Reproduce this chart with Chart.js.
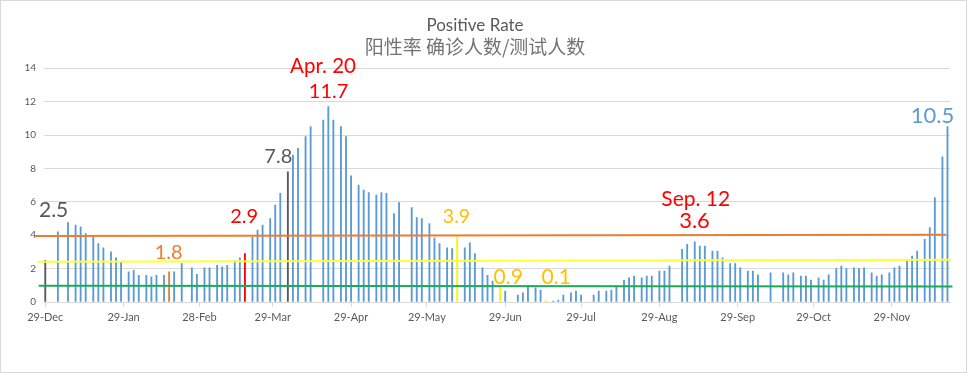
<!DOCTYPE html>
<html><head><meta charset="utf-8">
<script src="https://cdn.jsdelivr.net/npm/chart.js@4/dist/chart.umd.min.js"></script>
<style>html,body{margin:0;padding:0;background:#fff}canvas{display:block}</style>
</head><body>
<canvas id="c" width="967" height="373"></canvas>
<script>
// Days counted from 29-Dec
const days = [0,5,9,12,14,16,19,21,23,26,28,30,33,35,37,40,42,44,47,49,51,54,58,60,63,65,68,70,72,75,77,79,
  82,84,86,89,91,93,96,98,100,103,105,110,112,114,117,119,121,124,126,128,131,133,135,138,140,145,147,149,152,154,156,159,161,163,166,168,170,
  173,175,177,180,182,187,189,191,194,196,198,201,203,205,208,210,212,217,219,222,224,226,229,231,233,236,238,240,243,245,247,
  252,254,257,259,261,264,266,268,271,273,275,278,280,282,287,292,294,296,299,301,303,306,308,310,313,315,317,320,322,324,327,329,331,334,336,338,
  341,343,345,348,350,352,355,357];
const values = [2.5,4.2,4.75,4.6,4.5,4.1,3.95,3.5,3.25,3.0,2.65,2.4,1.8,1.9,1.6,1.6,1.5,1.6,1.6,1.8,1.8,2.3,2.05,1.65,2.05,2.05,2.2,2.1,2.2,2.5,2.65,2.9,
  3.9,4.3,4.6,5.0,5.8,6.5,7.8,8.8,9.2,9.9,10.5,10.9,11.7,10.9,10.5,9.9,7.55,7.0,6.7,6.55,6.4,6.55,6.5,5.3,5.95,5.65,5.05,5.0,4.7,3.85,3.5,3.25,3.2,3.9,3.25,3.55,2.9,
  2.05,1.6,1.25,0.9,0.65,0.42,0.55,1.0,0.85,0.72,0.1,0.06,0.12,0.42,0.55,0.65,0.42,0.42,0.65,0.65,0.72,0.95,1.3,1.45,1.55,1.45,1.55,1.55,1.85,1.85,2.15,
  3.15,3.45,3.6,3.35,3.35,3.05,3.05,2.65,2.3,2.3,2.05,1.85,1.85,1.62,1.75,1.75,1.62,1.75,1.55,1.55,1.32,1.45,1.32,1.62,2.0,2.15,2.0,2.05,2.0,2.05,1.75,1.55,1.62,1.75,2.05,2.15,
  2.45,2.75,3.05,3.75,4.45,6.25,8.7,10.5];
const tickDays = [0,31,61,90,121,151,182,212,243,274,304,335];
const tickLabels = ['29-Dec','29-Jan','28-Feb','29-Mar','29-Apr','29-May','29-Jun','29-Jul','29-Aug','29-Sep','29-Oct','29-Nov'];
const refLineDays = [-4, 356.5];
const orangeLine = [3.95, 4.03];
const yellowLineDays = [-3, 358.5];
const yellowLine = [2.41, 2.53];
const greenLineDays = [-2.6, 359];
const greenLine = [0.97, 0.93];
const labelText = ['2.5','1.8','2.9','7.8','Apr. 20','11.7','3.9','0.9','0.1','Sep. 12','3.6','10.5'];
const labelDay = [3.3,48.8,78.7,92.2,109.9,112.1,162.7,183.2,202.2,257.4,256.9,351.1];
const labelValue = [5.1,2.57,4.75,8.3,13.69,12.19,4.75,1.06,1.06,5.75,4.45,10.73];

// styles
const GREY='#595959', ORANGE='#ED7D31', RED='#FF0000', GOLD='#FFC000', BLUE='#5B9BD5', YEL='#FFF200';
const barColor = {0:GREY,49:ORANGE,79:RED,96:GREY,163:YEL,180:YEL,198:YEL};
const labelColor = [GREY,ORANGE,RED,GREY,RED,RED,GOLD,GOLD,GOLD,RED,RED,BLUE];
const labelSize = [21,20,20,20,20.5,20,19.5,21,21,21,22,22];

const pts = (xs, ys) => xs.map((x,i)=>({x, y: ys[i]}));

const labelPlugin = {
  id:'labels',
  afterDatasetsDraw(chart){
    const {ctx, scales:{x,y}} = chart;
    ctx.save();
    ctx.textAlign='center'; ctx.textBaseline='alphabetic';
    labelText.forEach((t,i)=>{
      ctx.font = labelSize[i]+'px Lato';
      ctx.fillStyle = labelColor[i];
      ctx.fillText(t, x.getPixelForValue(labelDay[i]), y.getPixelForValue(labelValue[i]));
    });
    ctx.restore();
  }
};
const borderPlugin = {
  id:'frame',
  afterDraw(chart){
    const ctx=chart.ctx; ctx.save(); ctx.strokeStyle='#D9D9D9'; ctx.lineWidth=1;
    ctx.strokeRect(0.5,0.5,chart.width-1,chart.height-1); ctx.restore();
  }
};

new Chart(document.getElementById('c'), {
  data:{
    datasets:[
      {type:'bar', data: pts(days, values), backgroundColor: days.map(d=>barColor[d]||BLUE), barThickness:1.2, order:2},
      {type:'line', data: pts(refLineDays, orangeLine), borderColor:ORANGE, borderWidth:2, pointRadius:0, clip:false, order:1},
      {type:'line', data: pts(yellowLineDays, yellowLine), borderColor:'#FFFF33', borderWidth:2, pointRadius:0, clip:false, order:1},
      {type:'line', data: pts(greenLineDays, greenLine), borderColor:'#1DAA5A', borderWidth:2, pointRadius:0, clip:false, order:1}
    ]
  },
  options:{
    responsive:false, devicePixelRatio:1, animation:false,
    layout:{padding:{left:0,right:17,top:0,bottom:41}},
    plugins:{
      legend:{display:false}, tooltip:{enabled:false},
      title:{display:true,text:'Positive Rate',color:GREY,font:{family:'Lato',size:17,weight:'normal'},padding:{top:15,bottom:0}},
      subtitle:{display:true,text:'阳性率 确诊人数/测试人数',color:'#737373',font:{family:"'Noto Sans CJK SC'",size:19,weight:'normal'},padding:{top:0,bottom:10}}
    },
    scales:{
      x:{type:'linear',min:-0.5,max:358,offset:false,
        afterBuildTicks:a=>{a.ticks=tickDays.map(v=>({value:v}));},
        ticks:{autoSkip:false,maxRotation:0,color:GREY,font:{family:'Lato',size:11},padding:4,
          callback:v=>{const i=tickDays.indexOf(v);return i<0?'':tickLabels[i];}},
        grid:{drawOnChartArea:false,drawTicks:true,tickLength:5,color:'#D9D9D9',offset:false},
        border:{display:true,color:'#D9D9D9'},
        afterFit:a=>{a.height=30;}},
      y:{min:0,max:14,
        ticks:{stepSize:2,color:GREY,font:{family:'Lato',size:10},padding:8},
        grid:{color:'#D9D9D9',drawTicks:false},
        border:{display:false},
        afterFit:a=>{a.width=44;}}
    }
  },
  plugins:[labelPlugin,borderPlugin]
});
</script>
</body></html>
